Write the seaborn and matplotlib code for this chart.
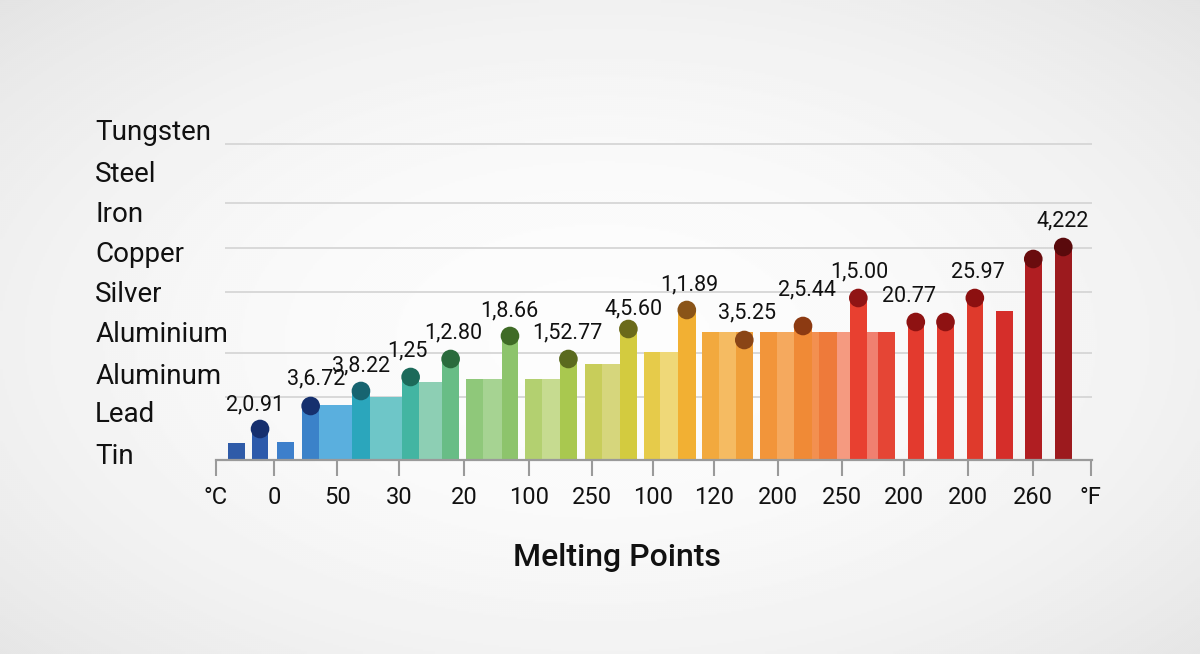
import numpy as np
import matplotlib
matplotlib.use("Agg")
import matplotlib.pyplot as plt
import seaborn as sns
import pandas as pd

# ---------------- data ----------------
metals = ["Tungsten", "Steel", "Iron", "Copper", "Silver",
          "Aluminium", "Aluminum", "Lead", "Tin"]
metal_levels = [330, 289, 249, 208, 168, 128, 87, 48, 7]
grid_levels = [316, 257, 212, 168, 107, 63]

tick_pos = [0, 0.93, 1.94, 2.93, 3.97, 5.01, 6.02, 6.99, 7.97, 8.99,
            10.02, 11.01, 12.03, 13.07, 14.0]
tick_labels = ["°C", "0", "50", "30", "20", "100", "250", "100", "120",
               "200", "250", "200", "200", "260", "°F"]

bar_left = [0.19, 0.58, 0.98, 1.38, 1.65, 2.18, 2.46, 2.98, 3.25, 3.62,
            4.00, 4.27, 4.58, 4.94, 5.22, 5.50, 5.90, 6.18, 6.46, 6.85,
            7.10, 7.39, 7.78, 8.05, 8.32, 8.70, 8.98, 9.25, 9.54, 9.65,
            9.94, 10.14, 10.42, 10.59, 11.07, 11.54, 12.02, 12.48, 12.94, 13.42]
bar_right = [0.46, 0.83, 1.25, 1.65, 2.18, 2.46, 2.98, 3.25, 3.62, 3.89,
             4.27, 4.58, 4.83, 5.22, 5.50, 5.78, 6.18, 6.46, 6.74, 7.10,
             7.39, 7.68, 8.05, 8.32, 8.59, 8.98, 9.25, 9.54, 9.65, 9.94,
             10.14, 10.42, 10.59, 10.86, 11.33, 11.81, 12.27, 12.75, 13.22, 13.70]
bar_value = [17, 31, 18, 54, 55, 69, 63, 83, 78, 101,
             81, 81, 124, 81, 81, 101, 96, 96, 131, 108,
             108, 150, 128, 128, 128, 128, 128, 134, 128, 128,
             128, 162, 128, 128, 138, 138, 162, 149, 201, 213]
nan = np.nan
marker_value = [nan, 31, nan, 54, nan, 69, nan, 83, nan, 101,
                nan, nan, 124, nan, nan, 101, nan, nan, 131, nan,
                nan, 150, nan, nan, 120, nan, nan, 134, nan, nan,
                nan, 162, nan, nan, 138, 138, 162, nan, 201, 213]

label_text = ["2,0.91", "3,6.72", "3,8.22", "1,25", "1,2.80", "1,8.66",
              "1,52.77", "4,5.60", "1,1.89", "3,5.25", "2,5.44", "1,5.00",
              "20.77", "25.97", "4,222"]
label_x = [0.62, 1.60, 2.32, 3.07, 3.79, 4.70, 5.62, 6.69, 7.57, 8.50,
           9.46, 10.30, 11.09, 12.19, 13.55]
label_y = [55, 81, 94, 109, 127, 149, 127, 151, 175, 147, 170, 188, 163, 187, 239]

# ---------------- styles ----------------
bar_colors = ["#2f5ba8", "#2d5aab", "#3d7fcb", "#3b82c9", "#5aafde",
              "#2ba6bc", "#6ec6c8", "#43b5a2", "#8dcfb4", "#68bd86",
              "#8fc87a", "#a6d392", "#8dc46c", "#b3d070", "#c6db90",
              "#a9c84f", "#c8cd5a", "#d6d67c", "#d3cb3f", "#e6cb4a",
              "#efd878", "#f2b033", "#f2a93e", "#f5bb62", "#f0a03a",
              "#f2953a", "#f5a95e", "#f08a36", "#f39050", "#ee7a3a",
              "#f59a80", "#e84030", "#f08070", "#e54535", "#e33a2e",
              "#e23a2e", "#df3a2c", "#d52e2a", "#b01e22", "#9c1a1e"]
marker_colors = {1: "#162f6e", 3: "#16306e", 5: "#176470", 7: "#1c6a5a",
                 9: "#2a6b3c", 12: "#3f6b26", 15: "#5a6a1e", 18: "#6b6a1a",
                 21: "#8a5418", 24: "#8a4516", 27: "#8c3a12", 31: "#901414",
                 34: "#8e1212", 35: "#8e1212", 36: "#8c1010", 38: "#6a0c0e",
                 39: "#5a0a0c"}

sns.set_theme(style="white")
plt.rcParams["font.family"] = ["Roboto", "DejaVu Sans"]
text_color = "#111111"

fig = plt.figure(figsize=(12, 6.54), dpi=100)

# background radial gradient
bg = fig.add_axes([0, 0, 1, 1], zorder=0)
yy, xx = np.mgrid[0:1:327j, 0:1:600j]
r = np.sqrt(((xx - 0.5) / 0.72) ** 2 + ((yy - 0.52) / 0.75) ** 2)
shade = 0.99 - 0.10 * np.clip(r, 0, 1) ** 2.0
bg.imshow(shade, cmap="gray", vmin=0, vmax=1, aspect="auto",
          extent=[0, 1, 0, 1], interpolation="bilinear")
bg.axis("off")

ax = fig.add_axes([0.18, (654 - 460) / 654, 876 / 1200, 360 / 654], zorder=1)
ax.patch.set_alpha(0)

# grid lines
ax.hlines(grid_levels, 0.14, 14.02, color="#d6d6d6", lw=1.3, zorder=1)

# bars
left = np.array(bar_left)
right = np.array(bar_right)
ax.bar(left, bar_value, width=right - left, align="edge",
       color=bar_colors, linewidth=0, zorder=2)

# markers
mk = pd.DataFrame({"x": (left + right) / 2, "y": marker_value,
                   "id": range(len(bar_left))}).dropna()
sns.scatterplot(data=mk, x="x", y="y", hue="id", palette=marker_colors,
                s=180, linewidth=0, legend=False, ax=ax, zorder=3)

# value labels
for t, x, y in zip(label_text, label_x, label_y):
    ax.text(x, y, t, ha="center", va="center", fontsize=15.5,
            color=text_color, zorder=4)

ax.set_xlim(0, 14.02)
ax.set_ylim(0, 360)
ax.set_xlabel("")
ax.set_ylabel("")

for s in ["top", "right", "left"]:
    ax.spines[s].set_visible(False)
ax.spines["bottom"].set_color("#9a9a9a")
ax.spines["bottom"].set_linewidth(1.6)

ax.set_xticks(tick_pos, tick_labels)
ax.tick_params(axis="x", length=11.5, width=1.5, color="#9a9a9a", pad=7.5,
               labelsize=17, labelcolor=text_color, bottom=True)
ax.set_yticks(metal_levels, metals)
ax.tick_params(axis="y", length=0, pad=87, labelsize=20,
               labelcolor=text_color)
for lbl in ax.get_yticklabels():
    lbl.set_horizontalalignment("left")

fig.text(0.514, 1 - 557 / 654, "Melting Points", ha="center", va="center",
         fontsize=23, fontweight="medium", color=text_color)

fig.savefig("out.png", dpi=100)
